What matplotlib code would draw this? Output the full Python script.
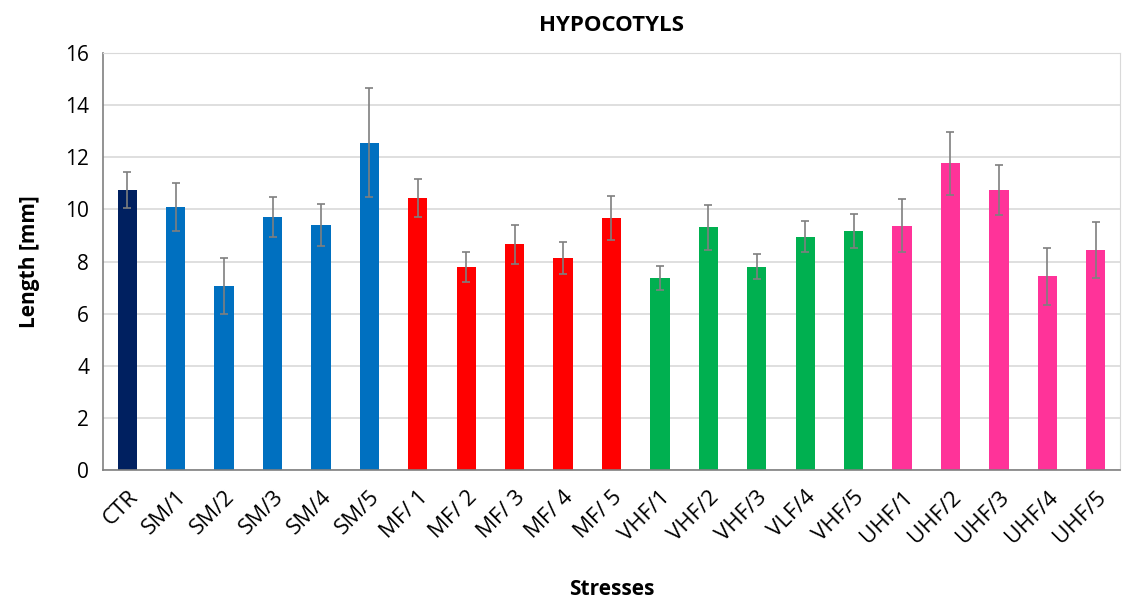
import matplotlib.pyplot as plt

labels = ["CTR", "SM/1", "SM/2", "SM/3", "SM/4", "SM/5",
          "MF/ 1", "MF/ 2", "MF/ 3", "MF/ 4", "MF/ 5",
          "VHF/1", "VHF/2", "VHF/3", "VLF/4", "VHF/5",
          "UHF/1", "UHF/2", "UHF/3", "UHF/4", "UHF/5"]
lengths = [10.75, 10.08, 7.06, 9.72, 9.40, 12.56,
           10.44, 7.79, 8.66, 8.14, 9.68,
           7.38, 9.32, 7.80, 8.95, 9.17,
           9.38, 11.77, 10.74, 7.43, 8.45]
errors = [0.70, 0.92, 1.06, 0.77, 0.80, 2.10,
          0.72, 0.59, 0.74, 0.61, 0.85,
          0.46, 0.86, 0.49, 0.60, 0.64,
          1.03, 1.20, 0.96, 1.08, 1.07]
groups = ["CTR"] + ["SM"] * 5 + ["MF"] * 5 + ["VHF"] * 5 + ["UHF"] * 5
group_colors = {"CTR": "#002060", "SM": "#0070C0", "MF": "#FF0000",
                "VHF": "#00B050", "UHF": "#FF3399"}

plt.rcParams['font.family'] = ['Open Sans', 'DejaVu Sans']

fig = plt.figure(figsize=(11.31, 6.04), dpi=100)
ax = fig.add_axes([103 / 1131, 1 - 470 / 604, 1017 / 1131, 417 / 604])

x = list(range(len(labels)))
ax.bar(x, lengths, width=0.4, color=[group_colors[g] for g in groups], zorder=2)
ax.errorbar(x, lengths, yerr=errors, fmt='none', ecolor='#7f7f7f',
            elinewidth=1.2, capsize=3, capthick=1.2, zorder=3)

ax.set_xlim(-0.5, len(labels) - 0.5)
ax.set_ylim(0, 16)
ax.set_yticks(range(0, 17, 2))
ax.yaxis.grid(True, color='#d9d9d9', linewidth=1.2, zorder=0)
ax.set_axisbelow(True)
for s in ['top', 'right']:
    ax.spines[s].set_color('#d9d9d9')
for s in ['left', 'bottom']:
    ax.spines[s].set_color('#808080')
    ax.spines[s].set_linewidth(1.2)

ax.set_xticks(x)
ax.set_xticklabels(labels, rotation=45, ha='right', rotation_mode='anchor', fontsize=16)
ax.tick_params(axis='x', length=0, pad=12)
ax.tick_params(axis='y', length=0, labelsize=15, pad=10)

ax.set_title("HYPOCOTYLS", fontsize=16, fontweight='bold', pad=16)
ax.set_ylabel("Length [mm]", fontsize=15, fontweight='bold', labelpad=18)
ax.set_xlabel("Stresses", fontsize=15, fontweight='bold', labelpad=23)

fig.savefig("out.png", dpi=100)
